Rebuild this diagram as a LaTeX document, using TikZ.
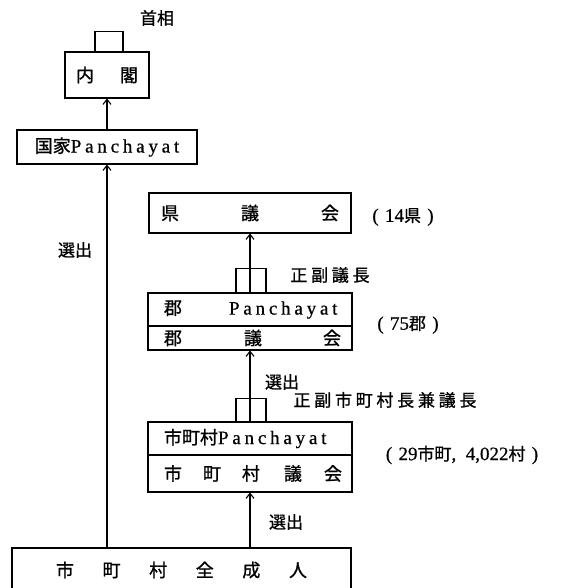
\documentclass[tikz,border=0pt]{standalone}
\usepackage{fontspec}
\newfontfamily\jp{Noto Sans CJK JP}[FakeBold=1]
\newfontfamily\jpw{Noto Sans CJK JP}[FakeBold=1,LetterSpace=22]
\newfontfamily\panfnt{Liberation Serif}[LetterSpace=20,FakeBold=0.6]
\newfontfamily\latfnt{Liberation Serif}[FakeBold=0.6]
\newcommand\pan[1]{{\panfnt\fontsize{19}{22}\selectfont #1}}
\newcommand\latt[1]{{\latfnt\fontsize{19}{22}\selectfont #1}}
\usetikzlibrary{arrows.meta,calc}
\begin{document}
\begin{tikzpicture}[x=1pt,y=-1pt,line width=1.1pt,
  box/.style={draw,rectangle,inner sep=0pt,font=\jp\fontsize{18}{21}\selectfont},
  lbl/.style={inner sep=0pt,font=\jp\fontsize{17}{20}\selectfont},
  lblw/.style={inner sep=0pt,font=\jpw\fontsize{17}{20}\selectfont},
  arr/.style={-{Straight Barb[length=5pt,width=8pt]}}]
\useasboundingbox (0,0) rectangle (562,588);
\clip (0,0) rectangle (562,588);
% boxes
\node[box,minimum width=84pt,minimum height=46pt] (naikaku) at (107,75) {内\hspace{26pt}閣};
\node[box,minimum width=180pt,minimum height=34pt] (kokka) at (107,147) {国家\pan{Panchayat}};
\node[box,minimum width=202pt,minimum height=40pt] (ken) at (250,213) {県\hspace{62pt}議\hspace{62pt}会};
\node[box,minimum width=204pt,minimum height=33pt] (gunP) at (250,309.5) {\makebox[204pt][l]{\hspace{16pt}郡\hspace{47pt}\pan{Panchayat}}};
\node[box,minimum width=204pt,minimum height=24pt] (gunG) at (250,338) {\makebox[204pt][l]{\hspace{16pt}郡\hspace{62pt}議\hspace{61pt}会}};
\node[box,minimum width=204pt,minimum height=33pt] (shiP) at (250,438.5) {\makebox[204pt][l]{\hspace{16pt}市町村\pan{Panchayat}}};
\node[box,minimum width=204pt,minimum height=37pt] (shiG) at (250,473.5) {\makebox[204pt][l]{\hspace{16pt}市\hspace{21pt}町\hspace{21pt}村\hspace{24pt}議\hspace{22pt}会}};
\node[box,minimum width=339pt,minimum height=44pt] (zen) at (181.5,570) {市\hspace{28.6pt}町\hspace{28.6pt}村\hspace{28.6pt}全\hspace{28.6pt}成\hspace{28.6pt}人};
% small brackets (chair positions)
\draw ($(naikaku.north)+(-12,0)$) -- ++(0,-20) -| ($(naikaku.north)+(16,0)$);
\draw ($(gunP.north)+(-14,0)$) -- ++(0,-24) -| ($(gunP.north)+(16,0)$);
\draw ($(shiP.north)+(-14,0)$) -- ++(0,-23) -| ($(shiP.north)+(16,0)$);
% arrows
\draw[arr] (zen.north -| kokka.south) -- (kokka.south);
\draw[arr] (kokka.north) -- (naikaku.south);
\draw[arr] (gunP.north) -- (ken.south);
\draw[arr] (shiP.north) -- (gunG.south);
\draw[arr] (zen.north -| shiG.south) -- (shiG.south);
% labels
\node[lbl] (shusho) at (157,18) {首相};
\node[lbl] (sen1) at (75,250) {選出};
\node[lbl] (sen2) at (282,382) {選出};
\node[lbl] (sen3) at (286,522) {選出};
\node[lblw] (seifuku1) at (330,275) {正副議長};
\node[lblw] (seifuku2) at (385,400) {正副市町村長兼議長};
\node[lbl] (n14) at (403,217) {\latt{(\,\,14}県\latt{\,\,)}};
\node[lbl] (n75) at (408,325) {\latt{(\,\,75}郡\latt{\,\,)}};
\node[lbl] (n29) at (462,455) {\latt{(\,\,29}市町\latt{,\,\,\,4,022}村\latt{\,\,)}};
\end{tikzpicture}
\end{document}
